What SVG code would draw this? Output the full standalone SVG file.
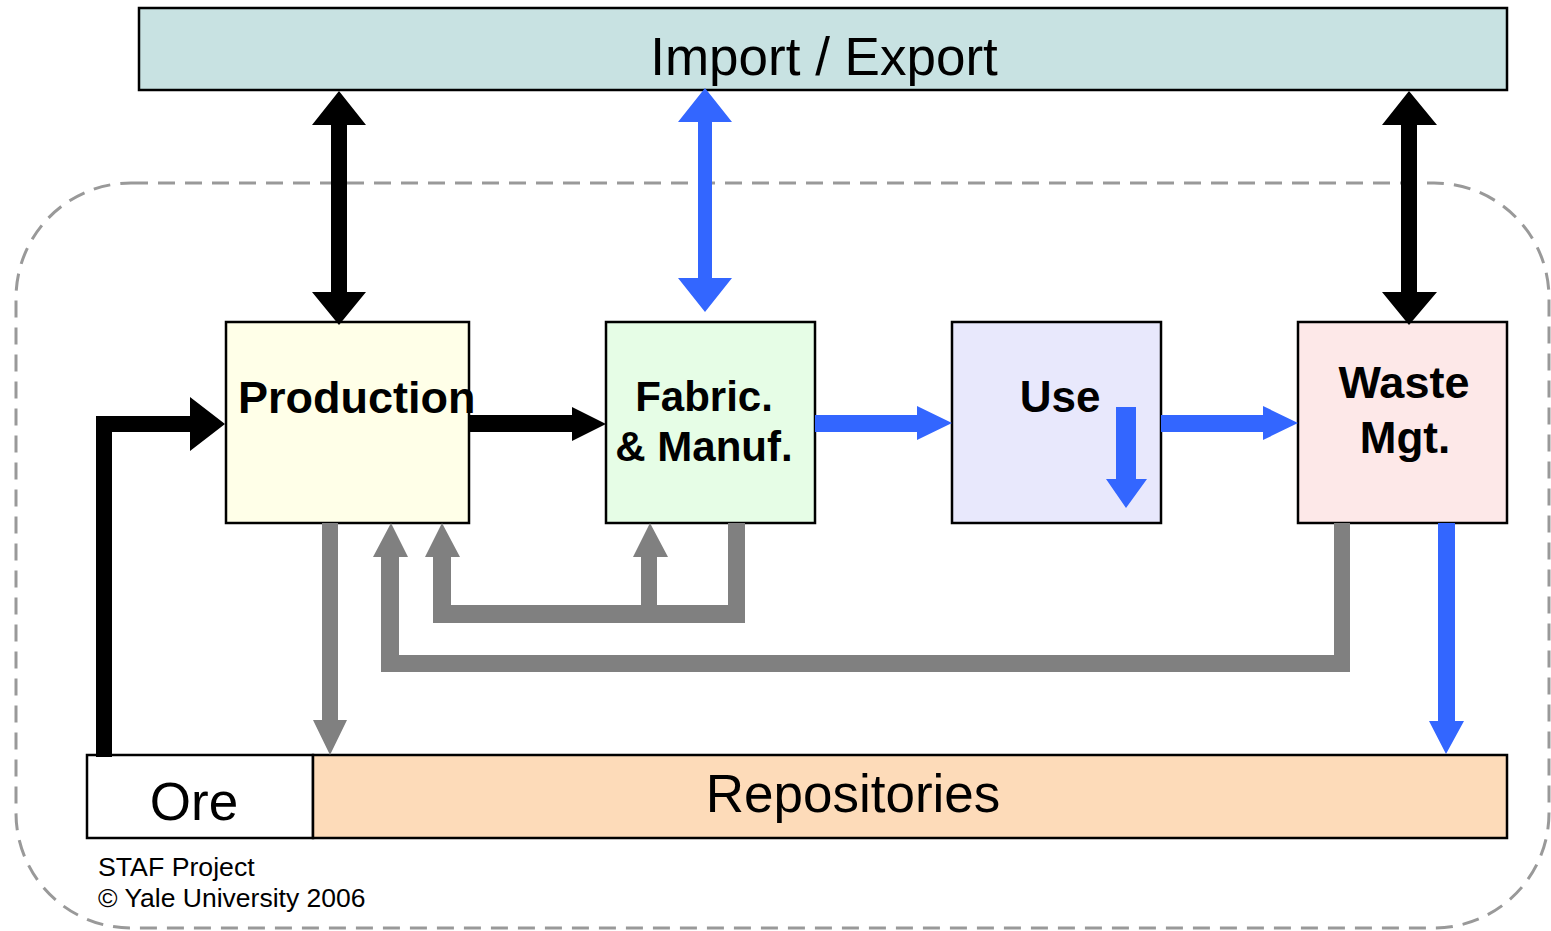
<svg xmlns="http://www.w3.org/2000/svg" width="1551" height="931" viewBox="0 0 1551 931">
<style>
.box{stroke:#000;stroke-width:2.5}
.lbl{font-family:"Liberation Sans",Arial,sans-serif;fill:#000}
.b{font-weight:bold}
.blk{fill:#000}
.blu{fill:#3366ff}
.gry{fill:#808080}
.bound{fill:none;stroke:#999;stroke-width:3;stroke-dasharray:17 10}
</style>
<rect width="1551" height="931" fill="#fff"/>
<g id="system-boundary">
<rect class="bound" x="16" y="183" width="1533" height="745" rx="115" ry="115"/>
</g>
<g id="import-export">
<rect class="box" x="139" y="8" width="1368" height="82" fill="#c8e2e2"/>
<text class="lbl" x="824" y="75" font-size="53" text-anchor="middle">Import / Export</text>
</g>
<g id="production">
<rect class="box" x="226" y="322" width="243" height="201" fill="#ffffe8"/>
<text class="lbl b" x="238" y="413" font-size="45">Production</text>
</g>
<g id="fabric">
<rect class="box" x="606" y="322" width="209" height="201" fill="#e6fde6"/>
<text class="lbl b" x="704" y="411" font-size="42" text-anchor="middle">Fabric.</text>
<text class="lbl b" x="704" y="461" font-size="42" text-anchor="middle">&amp; Manuf.</text>
</g>
<g id="use">
<rect class="box" x="952" y="322" width="209" height="201" fill="#e8e8fc"/>
<text class="lbl b" x="1060" y="412" font-size="44" text-anchor="middle">Use</text>
</g>
<g id="waste">
<rect class="box" x="1298" y="322" width="209" height="201" fill="#fde8e8"/>
<text class="lbl b" x="1404" y="398" font-size="45" text-anchor="middle">Waste</text>
<text class="lbl b" x="1405" y="453" font-size="44" text-anchor="middle">Mgt.</text>
</g>
<g id="ore">
<rect class="box" x="87" y="755" width="226" height="83" fill="#fff"/>
<text class="lbl" x="194" y="820" font-size="53" text-anchor="middle">Ore</text>
</g>
<g id="repositories">
<rect class="box" x="313" y="755" width="1194" height="83" fill="#fddbb9"/>
<text class="lbl" x="853" y="812" font-size="53" text-anchor="middle">Repositories</text>
</g>
<g id="connectors">
<polygon class="blk" points="339,91 366,125 347,125 347,292 366,292 339,325 312,292 331,292 331,125 312,125"/>
<polygon class="blk" points="1409,91 1437,125 1417,125 1417,292 1437,292 1409,325 1382,292 1401,292 1401,125 1382,125"/>
<polygon class="blu" points="705,88 732,122 712,122 712,278 732,278 705,312 678,278 698,278 698,122 678,122"/>
<polygon class="blk" points="96,757 96,416 190,416 190,397 225,424 190,451 190,432 112,432 112,757"/>
<polygon class="blk" points="469,415 572,415 572,407 606,424 572,441 572,432 469,432"/>
<polygon class="blu" points="815,415 917,415 917,406 952,423 917,440 917,432 815,432"/>
<polygon class="blu" points="1161,415 1263,415 1263,406 1298,423 1263,440 1263,432 1161,432"/>
<polygon class="blu" points="1116,407 1136,407 1136,479 1147,479 1126,508 1106,479 1116,479"/>
<polygon class="blu" points="1438,523 1455,523 1455,721 1464,721 1446,754 1429,721 1438,721"/>
<polygon class="gry" points="322,523 338,523 338,720 347,720 330,755 313,720 322,720"/>
<polygon class="gry" points="728,523 745,523 745,623 433,623 433,557 425,557 442,523 460,557 451,557 451,605 728,605"/>
<polygon class="gry" points="641,606 641,557 633,557 650,523 668,557 657,557 657,606"/>
<polygon class="gry" points="1334,523 1350,523 1350,672 381,672 381,557 373,557 391,523 408,557 399,557 399,655 1334,655"/>
</g>
<g id="credits">
<text class="lbl" x="98" y="876" font-size="26.7">STAF Project</text>
<text class="lbl" x="98" y="907" font-size="26.5">© Yale University 2006</text>
</g>
</svg>
